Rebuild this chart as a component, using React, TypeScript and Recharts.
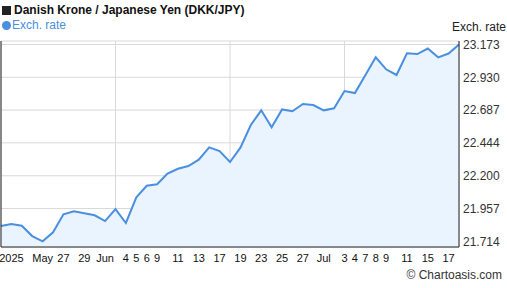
import React from 'react';
import { AreaChart, Area, XAxis, YAxis, CartesianGrid } from 'recharts';

const dates = [
  '2025-05-19', '2025-05-20', '2025-05-21', '2025-05-22', '2025-05-23',
  '2025-05-26', '2025-05-27', '2025-05-28', '2025-05-29', '2025-05-30',
  '2025-06-02', '2025-06-03', '2025-06-04', '2025-06-05', '2025-06-06',
  '2025-06-09', '2025-06-10', '2025-06-11', '2025-06-12', '2025-06-13',
  '2025-06-16', '2025-06-17', '2025-06-18', '2025-06-19', '2025-06-20',
  '2025-06-23', '2025-06-24', '2025-06-25', '2025-06-26', '2025-06-27',
  '2025-06-30', '2025-07-01', '2025-07-02', '2025-07-03', '2025-07-04',
  '2025-07-07', '2025-07-08', '2025-07-09', '2025-07-10', '2025-07-11',
  '2025-07-14', '2025-07-15', '2025-07-16', '2025-07-17', '2025-07-18',
];

const rates = [
  21.827, 21.842, 21.83, 21.753, 21.714,
  21.781, 21.914, 21.936, 21.922, 21.907,
  21.864, 21.953, 21.85, 22.04, 22.126,
  22.137, 22.216, 22.252, 22.272, 22.319,
  22.411, 22.383, 22.302, 22.408, 22.576,
  22.685, 22.559, 22.692, 22.678, 22.732,
  22.724, 22.685, 22.7, 22.828, 22.813,
  22.945, 23.078, 22.989, 22.947, 23.108,
  23.102, 23.143, 23.078, 23.106, 23.173,
];

const xTickDates = [
  '2025-05-20', '2025-05-23', '2025-05-27', '2025-05-29', '2025-06-02',
  '2025-06-04', '2025-06-05', '2025-06-06', '2025-06-09', '2025-06-11',
  '2025-06-13', '2025-06-17', '2025-06-19', '2025-06-23', '2025-06-25',
  '2025-06-27', '2025-07-01', '2025-07-03', '2025-07-04', '2025-07-07',
  '2025-07-08', '2025-07-09', '2025-07-11', '2025-07-15', '2025-07-17',
];
const xTickLabels = [
  '2025', 'May', '27', '29', 'Jun',
  '4', '5', '6', '9', '11',
  '13', '17', '19', '23', '25',
  '27', 'Jul', '3', '4', '7',
  '8', '9', '11', '15', '17',
];

const gridDates = ['2025-05-19', '2025-06-03', '2025-06-18', '2025-07-03', '2025-07-18'];

const yTicks = [21.714, 21.957, 22.2, 22.444, 22.687, 22.93, 23.173];
const yTickLabels = ['21.714', '21.957', '22.200', '22.444', '22.687', '22.930', '23.173'];
const yDomain = [21.672, 23.199];

const title = 'Danish Krone / Japanese Yen (DKK/JPY)';
const seriesName = 'Exch. rate';
const axisTitle = 'Exch. rate';
const credit = '\u00A9 Chartoasis.com';

const data = dates.map((d, i) => ({ i, date: d, rate: rates[i] }));
const xTicks = xTickDates.map((d) => dates.indexOf(d));
const gridTicks = gridDates.map((d) => dates.indexOf(d));
const xLabelOf = (v: number) => {
  const k = xTicks.indexOf(v);
  return k >= 0 ? xTickLabels[k] : '';
};
const yLabelOf = (v: number) => {
  const k = yTicks.findIndex((t) => Math.abs(t - v) < 1e-6);
  return k >= 0 ? yTickLabels[k] : String(v);
};

const FONT = '"Liberation Sans", Arial, Helvetica, sans-serif';
const LINE = '#4A8FE0';

export default function App() {
  return (
    <div
      style={{
        position: 'absolute',
        left: 0,
        top: 0,
        width: 507,
        height: 288,
        background: '#fff',
        fontFamily: FONT,
        overflow: 'hidden',
      }}
    >
      <AreaChart
        width={507}
        height={288}
        data={data}
        margin={{ top: 41, right: 0, left: 0, bottom: 11 }}
      >
        <XAxis
          xAxisId="main"
          type="number"
          dataKey="i"
          domain={[0, dates.length - 1]}
          ticks={xTicks}
          interval={0}
          tickFormatter={xLabelOf}
          tickLine={false}
          tickSize={0}
          tickMargin={7}
          height={30}
          axisLine={{ stroke: '#222', strokeWidth: 1 }}
          tick={{ fill: '#111', fontSize: 11, fontFamily: FONT }}
        />
        <XAxis
          xAxisId="grid"
          type="number"
          dataKey="i"
          domain={[0, dates.length - 1]}
          ticks={gridTicks}
          height={0}
          hide
        />
        <YAxis
          yAxisId="left"
          orientation="left"
          width={1}
          tick={false}
          tickLine={false}
          axisLine={{ stroke: '#222', strokeWidth: 1 }}
        />
        <YAxis
          yAxisId="right"
          orientation="right"
          type="number"
          domain={yDomain}
          allowDataOverflow
          ticks={yTicks}
          interval={0}
          tickFormatter={yLabelOf}
          width={48}
          tickLine={false}
          tickSize={0}
          tickMargin={4}
          axisLine={{ stroke: '#222', strokeWidth: 1 }}
          tick={{ fill: '#333', fontSize: 12, fontFamily: FONT, textAnchor: 'start' }}
        />
        <CartesianGrid
          xAxisId="grid"
          yAxisId="right"
          stroke="#d9d9d9"
          strokeWidth={1}
        />
        <Area
          xAxisId="main"
          yAxisId="right"
          type="linear"
          dataKey="rate"
          stroke={LINE}
          strokeWidth={2}
          fill="#EAF4FE"
          fillOpacity={1}
          dot={false}
          activeDot={false}
          isAnimationActive={false}
        />
      </AreaChart>

      <div
        style={{
          position: 'absolute',
          left: 2,
          top: 3,
          fontSize: 12,
          fontWeight: 'bold',
          color: '#111',
          whiteSpace: 'nowrap',
          lineHeight: '14px',
          display: 'flex',
          alignItems: 'center',
        }}
      >
        <span style={{ display: 'inline-block', width: 9, height: 9, background: '#222', marginRight: 3 }} />
        <span>{title}</span>
      </div>
      <div
        style={{
          position: 'absolute',
          left: 2,
          top: 18,
          fontSize: 12,
          color: LINE,
          whiteSpace: 'nowrap',
          lineHeight: '14px',
          display: 'flex',
          alignItems: 'center',
        }}
      >
        <span style={{ display: 'inline-block', width: 9, height: 9, borderRadius: '50%', background: LINE, marginRight: 1 }} />
        <span>{seriesName}</span>
      </div>
      <div
        style={{
          position: 'absolute',
          left: 452,
          top: 20,
          fontSize: 12,
          color: '#222',
          whiteSpace: 'nowrap',
          lineHeight: '14px',
        }}
      >
        {axisTitle}
      </div>
      <div
        style={{
          position: 'absolute',
          right: 5,
          top: 268,
          fontSize: 12,
          color: '#333',
          whiteSpace: 'nowrap',
          lineHeight: '14px',
        }}
      >
        {credit}
      </div>
    </div>
  );
}
